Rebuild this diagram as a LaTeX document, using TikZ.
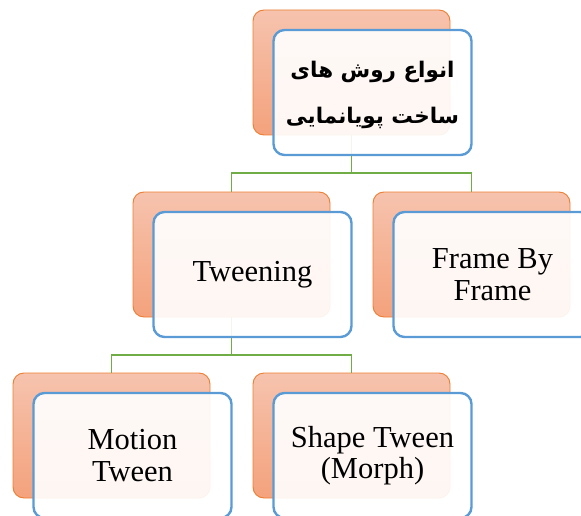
\documentclass[tikz,border=0pt]{standalone}
\usepackage{fontspec}
\setmainfont{Liberation Serif}
\newfontfamily\arabicfont[Script=Arabic]{DejaVu Sans Bold}
\TeXXeTstate=1
\definecolor{obord}{HTML}{ED7D31}
\definecolor{otop}{HTML}{F6C3AE}
\definecolor{obot}{HTML}{F4A27C}
\definecolor{bbord}{HTML}{5B9BD5}
\definecolor{gline}{HTML}{70AD47}
\begin{document}
\begin{tikzpicture}[x=1pt,y=1pt,
  back/.style={draw=obord, line width=0.9pt, rounded corners=11pt, top color=otop, bottom color=obot,
    minimum width=197pt, minimum height=125pt, inner sep=0pt, outer sep=0pt},
  front/.style={draw=bbord, line width=2.4pt, rounded corners=11pt, fill=white, fill opacity=0.91, text opacity=1,
    minimum width=198pt, minimum height=125pt, inner sep=0pt, outer sep=0pt, align=center,
    font=\fontsize{30.5}{31.5}\selectfont},
  fatext/.style={align=center, inner sep=0pt, font=\arabicfont\fontsize{21.5}{46}\selectfont},
  conn/.style={draw=gline, line width=1.1pt}]
\useasboundingbox (0,0) rectangle (581,-516);
\clip (0,0) rectangle (581,-516);
% back (orange) boxes
\node[back] (oA) at (351.5,-72.5) {};
\node[back] (oB) at (231.5,-254.5) {};
\node[back] (oC) at (471.5,-254.5) {};
\node[back] (oD) at (111.5,-435.5) {};
\node[back] (oE) at (351.5,-435.5) {};
% connectors
\draw[conn] (oA.south) -- ([yshift=-38pt]oA.south) -| (oB.north);
\draw[conn] ([yshift=-38pt]oA.south) -| (oC.north);
\draw[conn] (oB.south) -- ([yshift=-38pt]oB.south) -| (oD.north);
\draw[conn] ([yshift=-38pt]oB.south) -| (oE.north);
% front (blue) boxes
\node[front] (A) at (372.5,-92.5) {};
\node[fatext] (Atxt) at ([yshift=-2pt]A.center)
  {\beginR انواع روش های\endR\\\beginR ساخت پویانمایی\endR};
\node[front] (B) at (252.5,-274.5) {\raisebox{-2.5pt}{Tweening}};
\node[front] (C) at (492.5,-274.5) {Frame By\\Frame};
\node[front] (D) at (132.5,-455.5) {Motion\\Tween};
\node[front] (E) at (372.5,-455.5) {Shape Tween\\(Morph)};
\end{tikzpicture}
\end{document}
